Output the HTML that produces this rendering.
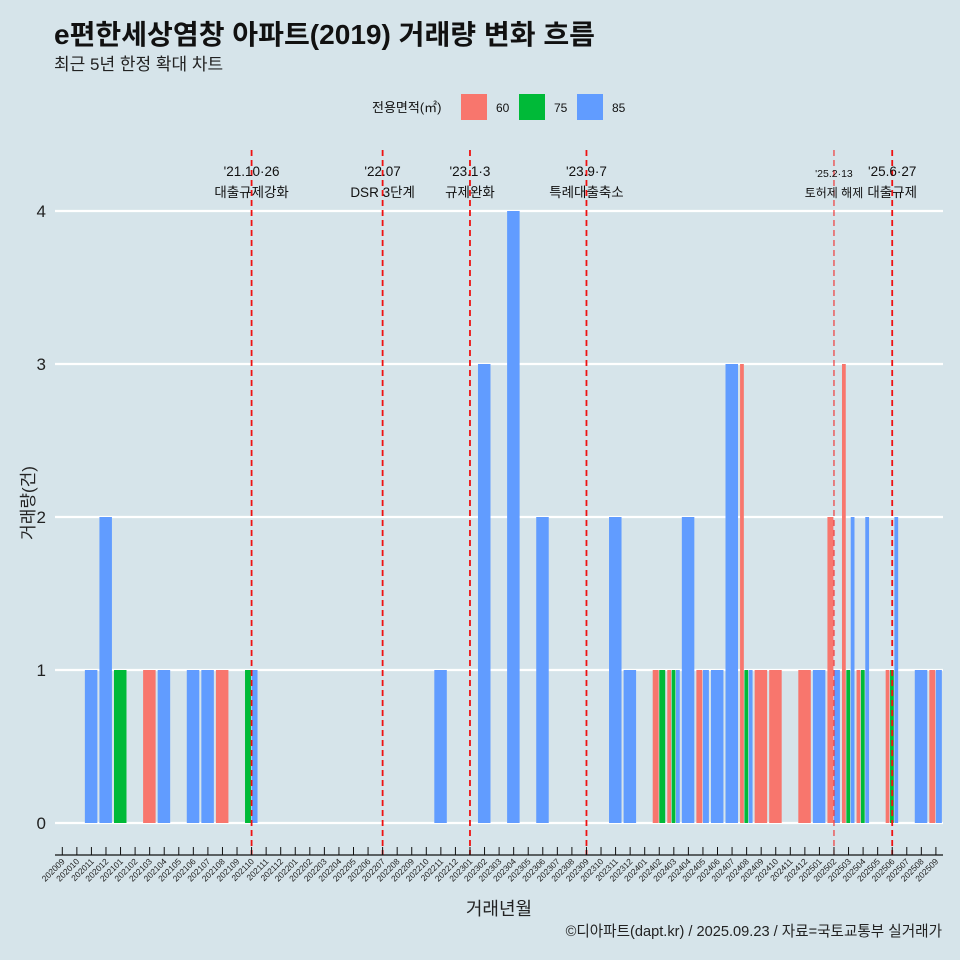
<!DOCTYPE html>
<html><head><meta charset="utf-8"><style>
html,body{margin:0;padding:0;background:#d6e4ea;}
svg{display:block;font-family:"Liberation Sans","Noto Sans CJK KR",sans-serif;}
</style></head><body>
<svg id="chart" width="960" height="960" viewBox="0 0 960 960">
<rect x="0" y="0" width="960" height="960" fill="#d6e4ea"/>
<text x="54" y="44" font-size="27.5" font-weight="bold" fill="#111" textLength="541" lengthAdjust="spacingAndGlyphs">e편한세상염창 아파트(2019) 거래량 변화 흐름</text>
<text x="54" y="70" font-size="17" fill="#222">최근 5년 한정 확대 차트</text>
<g>
<text x="372" y="112" font-size="13" fill="#111">전용면적(㎡)</text>
<rect x="461" y="94" width="26" height="26" fill="#f8766d"/>
<text x="496" y="112" font-size="12" fill="#111">60</text>
<rect x="519" y="94" width="26" height="26" fill="#00ba38"/>
<text x="554" y="112" font-size="12" fill="#111">75</text>
<rect x="577" y="94" width="26" height="26" fill="#619cff"/>
<text x="612" y="112" font-size="12" fill="#111">85</text>
</g>
<g id="grid"></g><g id="bars"></g><g id="events"></g><g id="xaxis"></g><g id="yaxis"></g>
<text x="499" y="915" font-size="18" text-anchor="middle" fill="#222">거래년월</text>
<text x="0" y="0" font-size="17" text-anchor="middle" fill="#222" transform="translate(34,503) rotate(-90)">거래량(건)</text>
<text x="942" y="936" font-size="14.6" text-anchor="end" fill="#222">©디아파트(dapt.kr) / 2025.09.23 / 자료=국토교통부 실거래가</text>
</svg>
<script>
const months = [];
for (let y = 2020, m = 9; !(y === 2025 && m === 10); ) { months.push(String(y) + String(m).padStart(2, '0')); m++; if (m > 12) { m = 1; y++; } }
const groups = ['60', '75', '85'];
const colors = {'60': '#f8766d', '75': '#00ba38', '85': '#619cff'};
const series60 = {'202103':1,'202108':1,'202402':1,'202403':1,'202405':1,'202408':3,'202409':1,'202410':1,'202412':1,'202502':2,'202503':3,'202504':1,'202506':1,'202509':1};
const series75 = {'202101':1,'202110':1,'202402':1,'202403':1,'202408':1,'202503':1,'202504':1,'202506':1};
const series85 = {'202011':1,'202012':2,'202104':1,'202106':1,'202107':1,'202110':1,'202211':1,'202302':3,'202304':4,'202306':2,'202311':2,'202312':1,'202403':1,'202404':2,'202405':1,'202406':1,'202407':3,'202408':1,'202501':1,'202502':1,'202503':2,'202504':2,'202506':2,'202508':1,'202509':1};
const yTicks = [0, 1, 2, 3, 4];
const eventMonths = ['202110', '202207', '202301', '202309', '202502', '202506'];
const eventLine1 = ["'21.10·26", "'22.07", "'23.1·3", "'23.9·7", "'25.2·13", "'25.6·27"];
const eventLine2 = ['대출규제강화', 'DSR 3단계', '규제완화', '특례대출축소', '토허제 해제', '대출규제'];

const NS = 'http://www.w3.org/2000/svg';
const X0 = 62.3, STEP = 14.56, Y0 = 823, UNIT = 153, PL = 55, PR = 943;
const xs = i => X0 + STEP * i;
const ys = v => Y0 - UNIT * v;
function mk(tag, attrs, parent) { const e = document.createElementNS(NS, tag); for (const k in attrs) e.setAttribute(k, attrs[k]); parent.appendChild(e); return e; }

const grid = document.getElementById('grid');
yTicks.forEach(t => {
  const l = mk('line', {x1: PL, x2: PR, y1: ys(t), y2: ys(t), stroke: '#fff', 'stroke-width': 2.2}, grid);
  
  
});
const yaxis = document.getElementById('yaxis');
yTicks.forEach(t => {
  const tx = mk('text', {x: 46, y: ys(t) + 6, 'font-size': 17, 'text-anchor': 'end', fill: '#222'}, yaxis);
  tx.textContent = t;
  
  
});

const data = {'60': series60, '75': series75, '85': series85};
const bars = document.getElementById('bars');
const BW = STEP * 0.9;
months.forEach((mo, i) => {
  const present = groups.filter(g => data[g][mo]);
  if (!present.length) return;
  const w = BW / present.length;
  present.forEach((g, j) => {
    const v = data[g][mo];
    const r = mk('rect', {x: xs(i) - BW / 2 + j * w, y: ys(v), width: Math.max(w - 0.6, 0.5), height: ys(0) - ys(v), fill: colors[g]}, bars);
    
    
  });
});

const ev = document.getElementById('events');
eventMonths.forEach((mo, k) => {
  const i = months.indexOf(mo);
  const x = xs(i);
  const thin = mo === '202502';
  const l = mk('line', {x1: x, x2: x, y1: 150, y2: 855, stroke: thin ? '#f03a3a' : '#ee1111', 'stroke-width': thin ? 1.2 : 1.8, 'stroke-dasharray': '6,4'}, ev);
  
  
  const t1 = mk('text', {x: x, y: thin ? 177 : 176, 'font-size': thin ? 10.5 : 13.5, 'text-anchor': 'middle', fill: '#111'}, ev);
  t1.textContent = eventLine1[k];
  
  
  const t2 = mk('text', {x: x, y: 197, 'font-size': thin ? 12 : 13.5, 'text-anchor': 'middle', fill: '#111'}, ev);
  t2.textContent = eventLine2[k];
  
  
});

const xa = document.getElementById('xaxis');
const al = mk('line', {x1: PL, x2: PR, y1: 855, y2: 855, stroke: '#111', 'stroke-width': 1.2}, xa);


months.forEach((mo, i) => {
  const x = xs(i);
  const tk = mk('line', {x1: x, x2: x, y1: 847, y2: 855, stroke: '#111', 'stroke-width': 1}, xa);
  
  
  const tx = mk('text', {x: 0, y: 0, 'font-size': 8.5, 'text-anchor': 'end', fill: '#222', transform: 'translate(' + (x + 3) + ',862) rotate(-45)'}, xa);
  tx.textContent = mo;
  
  
});
</script>
</body></html>
